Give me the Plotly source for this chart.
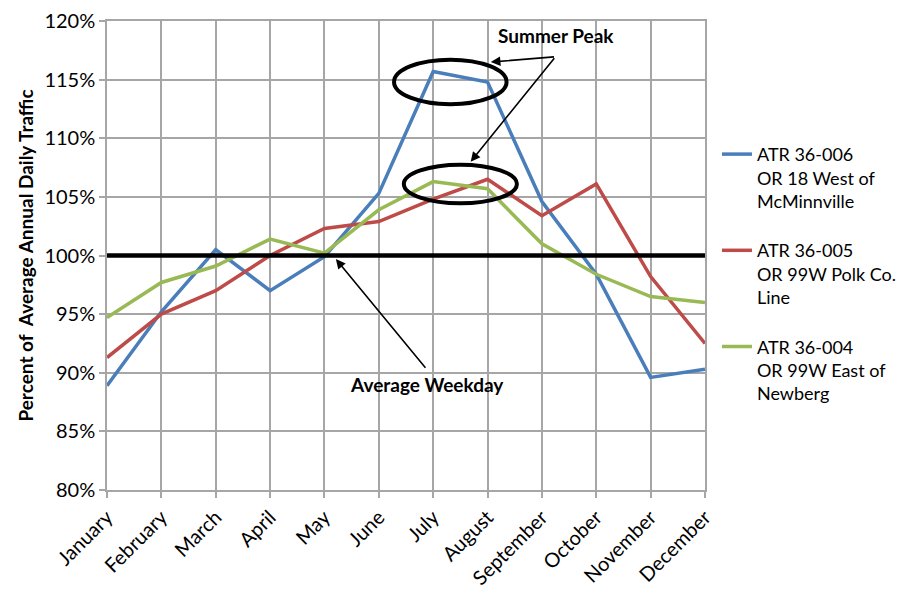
import plotly.graph_objects as go

months = ["January", "February", "March", "April", "May", "June", "July",
          "August", "September", "October", "November", "December"]
atr_36_006 = [88.9, 95.2, 100.5, 97.0, 99.9, 105.3, 115.7, 114.8, 104.6, 98.4, 89.6, 90.3]
atr_36_005 = [91.3, 95.0, 97.0, 100.0, 102.3, 102.9, 104.8, 106.5, 103.4, 106.1, 98.2, 92.5]
atr_36_004 = [94.7, 97.7, 99.1, 101.4, 100.2, 103.9, 106.3, 105.7, 101.0, 98.4, 96.5, 96.0]
names = ["ATR 36-006<br>OR 18 West of<br>McMinnville",
         "ATR 36-005<br>OR 99W Polk Co.<br>Line",
         "ATR 36-004<br>OR 99W East of<br>Newberg"]
colors = ["#4a7ebb", "#be4b48", "#98b954"]
y_ticks = [80, 85, 90, 95, 100, 105, 110, 115, 120]

FONT = "Lato, Open Sans, sans-serif"
idx = list(range(len(months)))

fig = go.Figure()
for i, (vals, nm, col) in enumerate(zip([atr_36_006, atr_36_005, atr_36_004], names, colors)):
    fig.add_trace(go.Scatter(x=idx, y=vals, mode="lines", name=nm,
                             line=dict(color=col, width=3.5),
                             legendgroup=str(i)))

fig.add_hline(y=100, line=dict(color="black", width=4.5))

# ellipses around summer peaks
fig.add_shape(type="circle", xref="x", yref="y", x0=5.28, x1=7.35, y0=112.9, y1=116.7,
              line=dict(color="black", width=4))
fig.add_shape(type="circle", xref="x", yref="y", x0=5.46, x1=7.54, y0=104.45, y1=107.75,
              line=dict(color="black", width=4))

# annotations
fig.add_annotation(x=8.25, y=118.75, text="<b>Summer Peak</b>", showarrow=False,
                   font=dict(family=FONT, size=19, color="black"))
for hx, hy in [(7.06, 116.5), (6.69, 108.0)]:
    fig.add_annotation(x=hx, y=hy, ax=8.25, ay=116.95, axref="x", ayref="y",
                       xref="x", yref="y", text="", showarrow=True,
                       arrowhead=2, arrowsize=1.2, arrowwidth=1.6, arrowcolor="black")
fig.add_annotation(x=5.88, y=89.0, text="<b>Average Weekday</b>", showarrow=False,
                   font=dict(family=FONT, size=19, color="black"))
fig.add_annotation(x=4.21, y=99.7, ax=5.88, ay=90.3, axref="x", ayref="y",
                   xref="x", yref="y", text="", showarrow=True,
                   arrowhead=2, arrowsize=1.2, arrowwidth=1.6, arrowcolor="black")

fig.update_xaxes(range=[0, 11], tickvals=idx, ticktext=months, tickangle=-45,
                 showgrid=True, gridcolor="#a6a6a6", gridwidth=1.5,
                 showline=True, linecolor="#a6a6a6", linewidth=1.5, mirror=True,
                 ticks="outside", ticklen=6, tickcolor="#a6a6a6", tickwidth=1.5,
                 tickfont=dict(family=FONT, size=20, color="black"), zeroline=False,
                 automargin=False, ticklabeloverflow="allow")
fig.update_yaxes(range=[80, 120], tickvals=y_ticks, ticktext=[f"{v}%" for v in y_ticks],
                 showgrid=True, gridcolor="#a6a6a6", gridwidth=1.5,
                 showline=True, linecolor="#a6a6a6", linewidth=1.5, mirror=True,
                 ticks="outside", ticklen=6, tickcolor="#a6a6a6", tickwidth=1.5,
                 tickfont=dict(family=FONT, size=20, color="black"), zeroline=False,
                 automargin=False, ticklabeloverflow="allow",
                 title=dict(text="<b>Percent of  Average Annual Daily Traffic</b>",
                            font=dict(family=FONT, size=19, color="black"), standoff=6))

fig.update_layout(
    width=906, height=589,
    margin=dict(l=99, r=207, t=13, b=107),
    paper_bgcolor="white", plot_bgcolor="white",
    showlegend=True,
    legend=dict(x=1.02, y=0.755, xanchor="left", yanchor="top", valign="top",
                font=dict(family=FONT, size=18, color="black"),
                tracegroupgap=23, bgcolor="rgba(0,0,0,0)"),
)

fig.write_html("out.html")
